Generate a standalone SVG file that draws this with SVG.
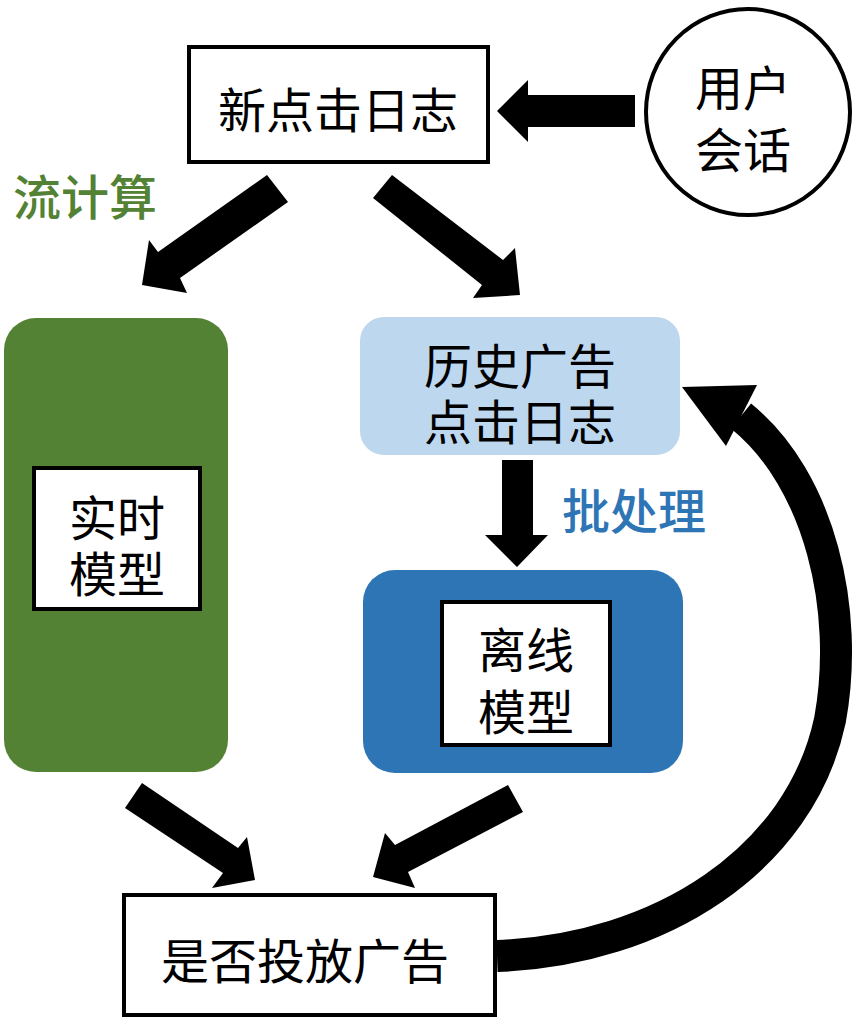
<svg xmlns="http://www.w3.org/2000/svg" width="857" height="1020" viewBox="0 0 857 1020">
<style>
.box{fill:#fff;stroke:#000;stroke-width:4}
.t{font-family:"Noto Sans CJK SC","Noto Sans",sans-serif;font-size:48px;fill:#000;text-anchor:middle}
.lbl{font-family:"Noto Sans CJK SC","Noto Sans",sans-serif;font-size:48px;font-weight:500;text-anchor:start}
.arr{fill:#000}
</style>
<rect width="857" height="1020" fill="#fff"/>
<g id="connectors">
<polygon class="arr" points="635,95 528,95 528,80 497,111 528,142 528,127 635,127"/>
<polygon class="arr" points="267,175 288,202 180,278 187,293 142,285 149,240 158,252"/>
<polygon class="arr" points="392,175 503,260 515,248 520,295 473,298 482,285 373,198"/>
<polygon class="arr" points="502,460 533,460 533,535 548,535 517,567 485,535 502,535"/>
<polygon class="arr" points="142,783 238,848 247,837 255,880 212,888 223,873 125,808"/>
<polygon class="arr" points="508,785 395,845 385,833 373,877 415,888 408,872 523,812"/>
<path d="M497 956 C660 950 800 860 830 720 C850 610 820 480 741 416" fill="none" stroke="#000" stroke-width="32"/>
<polygon class="arr" points="682,387 757,385 726,446"/>
</g>
<g id="label-stream"><text class="lbl" x="13" y="215" fill="#548235">流计算</text></g>
<g id="label-batch"><text class="lbl" x="562" y="529" fill="#2E75B6">批处理</text></g>
<g id="new-click-log">
<rect class="box" x="189" y="47" width="299" height="115"/>
<text class="t" x="338" y="128">新点击日志</text>
</g>
<g id="user-session">
<ellipse cx="748" cy="112" rx="102" ry="103" fill="#fff" stroke="#000" stroke-width="4"/>
<text class="t" x="743" y="106">用户</text>
<text class="t" x="743" y="168">会话</text>
</g>
<g id="stream">
<rect x="4" y="318" width="224" height="454" rx="32" fill="#548235"/>
<g id="realtime-model">
<rect class="box" x="34" y="468" width="166" height="141"/>
<text class="t" x="117" y="536">实时</text>
<text class="t" x="117" y="592">模型</text>
</g>
</g>
<g id="history-log">
<rect x="360" y="317" width="320" height="138" rx="24" fill="#BDD7EE"/>
<text class="t" x="520" y="384">历史广告</text>
<text class="t" x="520" y="440">点击日志</text>
</g>
<g id="batch">
<rect x="363" y="570" width="320" height="203" rx="32" fill="#2E75B6"/>
<g id="offline-model">
<rect class="box" x="442" y="602" width="168" height="143"/>
<text class="t" x="526" y="668">离线</text>
<text class="t" x="526" y="730">模型</text>
</g>
</g>
<g id="decide">
<rect class="box" x="124" y="895" width="371" height="120"/>
<text class="t" x="305" y="979">是否投放广告</text>
</g>
</svg>
